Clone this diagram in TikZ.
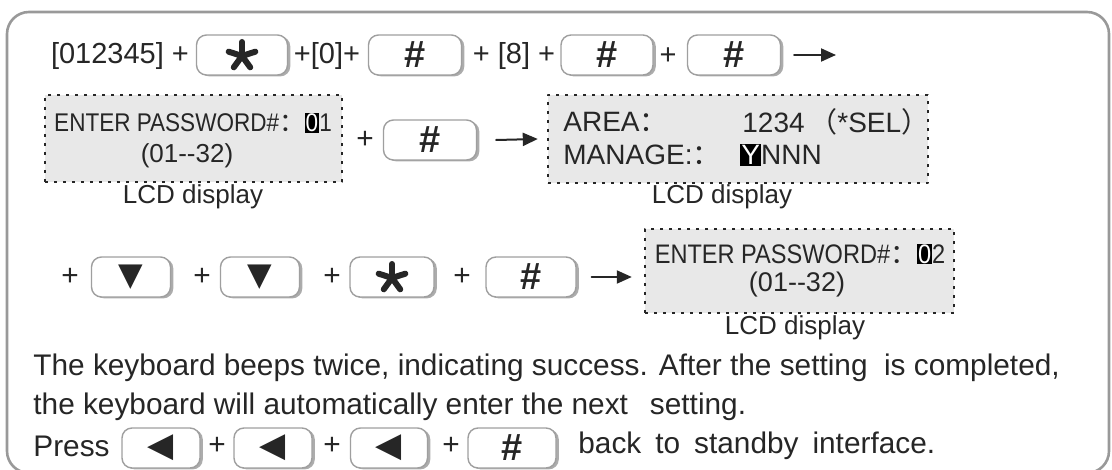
\documentclass[tikz,border=0pt]{standalone}
\usepackage{fontspec}
\setmainfont{Liberation Sans}
\newfontfamily\cjkfont{Noto Sans CJK SC}
\newfontfamily\symfont{DejaVu Sans}
\newfontfamily\lcdfont[FakeStretch=0.88]{Liberation Sans}
\usetikzlibrary{arrows.meta,positioning,shadows}
\tikzset{
  keyb/.style={draw=gray!75, line width=0.7pt, rounded corners=5pt, fill=white,
    minimum height=20pt, inner sep=0pt, text=black!85,
    drop shadow={shadow xshift=1.4pt, shadow yshift=-0.7pt, fill=gray!65, opacity=1}},
  hashkey/.style={keyb, font=\fontsize{19}{19}\selectfont\bfseries},
  starkey/.style={keyb, path picture={
      \foreach \a in {90,162,234,306,378}
        \draw[line width=3pt, black!85] ([yshift=-0.5pt]path picture bounding box.center) -- ++(\a:7pt);}},
  trikey/.style={keyb, font=\symfont\fontsize{16}{16}\selectfont},
  lkey/.style={keyb, font=\symfont\fontsize{17}{17}\selectfont},
  lcd/.style={fill=gray!18, draw=black!85, line width=1.2pt, line cap=butt,
    dash pattern=on 1.3pt off 3.2pt, inner sep=0pt},
  txt/.style={inner sep=0pt, text=black!85, font=\fontsize{14.9}{17}\selectfont},
  toptxt/.style={inner sep=0pt, text=black!85, font=\fontsize{14.5}{16}\selectfont},
  lcdtxt/.style={inner sep=0pt, text=black!85, font=\lcdfont\fontsize{12.8}{14}\selectfont},
  areatxt/.style={inner sep=0pt, text=black!85, font=\fontsize{14}{16}\selectfont},
  lcdlbl/.style={inner sep=0pt, text=black!85, font=\fontsize{13}{15}\selectfont},
  arr/.style={line width=1pt, black!85, -{Triangle[length=7.5pt,width=6.5pt]}},
  frame/.style={draw=gray!80, line width=1.3pt, rounded corners=11pt},
  every picture/.style={line cap=round, line join=round}
}
\newcommand{\hlch}[1]{{\setlength{\fboxsep}{0.5pt}\colorbox{black}{\textcolor{white}{#1}}}}
\newcommand{\fwc}{{\cjkfont ：}}

\begin{document}
\begin{tikzpicture}[x=0.5pt, y=-0.5pt]
  \useasboundingbox (0,0) rectangle (1112,470);
  \draw[frame] (7,12) rectangle (1109,473);

  % first line of keys
  \node[toptxt] (t1) at (120,56) {[012345] +};
  \node[starkey, minimum width=45.5pt] (k1) at (242,55) {};
  \node[toptxt] (t2) at (327,56) {+[0]+};
  \node[hashkey, minimum width=46.5pt] (k2) at (415,55) {\#};
  \node[toptxt] (t3) at (514,56) {+ [8] +};
  \node[hashkey, minimum width=46pt] (k3) at (607,55) {\#};
  \node[toptxt] (t4) at (668,56) {+};
  \node[hashkey, minimum width=46.5pt] (k4) at (734,55) {\#};
  \coordinate (a1) at (836,55);
  \draw[arr] ([xshift=6.5pt]k4.east) -- (a1);

  % password screen and area screen
  \node[lcd, minimum width=148.5pt, minimum height=43.5pt] (lcd1) at (193.5,138.5) {};
  \node[lcdtxt] (p1) at (193,123) {ENTER PASSWORD\#\fwc\hlch{0}1};
  \node[lcdtxt, font=\fontsize{13}{15}\selectfont] (r1) at (187,156) {(01-{}-32)};
  \node[lcdlbl] (c1) at (193,197) {LCD display};
  \node[txt] (t5) at (365,140) {+};
  \node[hashkey, minimum width=46.5pt] (k5) at (430,140) {\#};
  \node[lcd, minimum width=190pt, minimum height=44pt] (lcd2) at (738,139) {};
  \draw[arr] ([xshift=9.5pt]k5.east) -- ([xshift=-4.5pt]lcd2.west);
  \node[areatxt, anchor=west] (ar) at (563,122) {AREA\fwc};
  \node[areatxt, anchor=west] (ar2) at (742,122) {1234\,{\cjkfont （}*SEL{\cjkfont ）}};
  \node[areatxt, anchor=west] (mg) at (563,155) {MANAGE:\fwc};
  \node[areatxt, anchor=west] (mg2) at (740,155) {\hlch{Y}NNN};
  \node[lcdlbl] (c2) at (722,197) {LCD display};

  % arrow keys row
  \node[txt] (t6) at (70,277) {+};
  \node[trikey, minimum width=39.5pt] (k6) at (131,277) {▼};
  \node[txt] (t7) at (202,277) {+};
  \node[trikey, minimum width=39.5pt] (k7) at (260,277) {▼};
  \node[txt] (t8) at (332,277) {+};
  \node[starkey, minimum width=42pt] (k8) at (392,277) {};
  \node[txt] (t9) at (462,277) {+};
  \node[hashkey, minimum width=45pt] (k9) at (531,277) {\#};
  \node[lcd, minimum width=154.5pt, minimum height=42pt] (lcd3) at (799.5,271) {};
  \draw[arr] ([xshift=7.5pt]k9.east) -- ([xshift=-6pt]lcd3.west |- k9.east);
  \node[lcdtxt, font=\lcdfont\fontsize{13.4}{14}\selectfont] (p3) at (800,254) {ENTER PASSWORD\#\fwc\hlch{0}2};
  \node[lcdtxt, font=\fontsize{13.5}{15}\selectfont] (r3) at (797,285) {(01-{}-32)};
  \node[lcdlbl] (c3) at (795,328) {LCD display};

  % notes
  \node[txt, anchor=west] (n1) at (33,368) {The keyboard beeps twice, indicating success. After the setting\ \ is completed,};
  \node[txt, anchor=west] (n2) at (33,407) {the keyboard will automatically enter the next\hspace{11pt}setting.};
  \node[txt, anchor=west] (n3) at (33,446) {Press};
  \node[lkey, minimum width=39pt] (k10) at (161,448) {◀};
  \node[txt] (t10) at (217,446) {+};
  \node[lkey, minimum width=39pt] (k11) at (273,448) {◀};
  \node[txt] (t11) at (332,446) {+};
  \node[lkey, minimum width=38.5pt] (k12) at (389,448) {◀};
  \node[txt] (t12) at (451,446) {+};
  \node[hashkey, minimum width=44pt] (k13) at (512,448) {\#};
  \node[txt, anchor=west] (n4) at (578,446) {back\hspace{7pt}to\hspace{7pt}standby\hspace{7pt}interface.};
\end{tikzpicture}
\end{document}
